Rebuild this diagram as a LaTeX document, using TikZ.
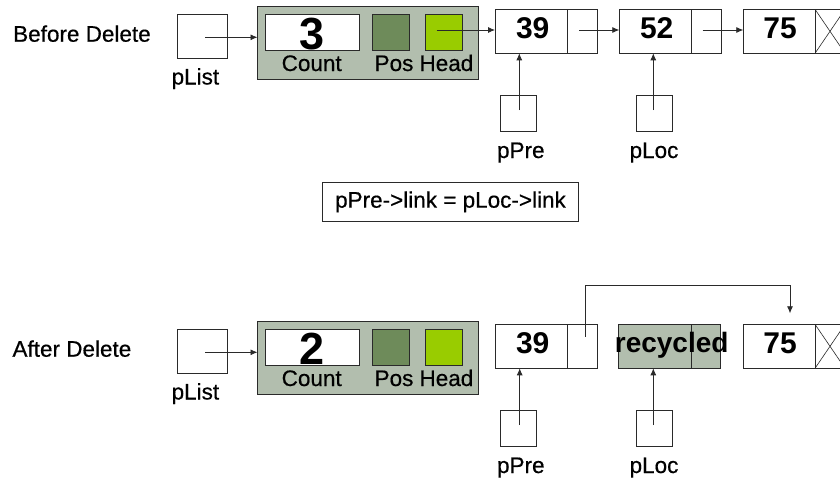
\documentclass[tikz,border=0pt]{standalone}
\usepackage{fontspec}
\setmainfont{Liberation Sans}
\newfontfamily\lblfont{Liberation Sans}[FakeBold=0.5]
\usetikzlibrary{arrows.meta}
\definecolor{panel}{HTML}{B2BEAE}
\definecolor{posgreen}{HTML}{6E8B5A}
\definecolor{headgreen}{HTML}{99CC00}
\definecolor{ln}{HTML}{2A2A2A}
\tikzset{
  box/.style={draw=ln, line width=0.8pt, inner sep=0pt, outer sep=0pt, rectangle},
  lbl/.style={font=\lblfont\fontsize{22.5}{27}\selectfont, inner sep=0pt, anchor=base},
  num/.style={font=\bfseries\fontsize{30}{36}\selectfont, inner sep=0pt, anchor=base},
  bignum/.style={font=\bfseries\fontsize{45}{52}\selectfont, inner sep=0pt, anchor=base},
  ptr/.style={draw=ln, line width=0.8pt, -{Latex[length=7pt,width=6pt]}},
  xline/.style={draw=ln, line width=0.6pt},
}
\begin{document}
\begin{tikzpicture}[x=1pt,y=-1pt]
\useasboundingbox (0,0) rectangle (840,479);
\fill[white] (0,0) rectangle (840,479);

% ---------------- Before Delete ----------------
\node[lbl, anchor=base west] (tbefore) at (13,41.7) {Before Delete};
\node[box, fill=white, minimum width=50.3pt, minimum height=44pt] (bplist) at (202.2,36.3) {};
\node[lbl] (bplistl) at (195.4,84.5) {pList};
\node[box, fill=panel, minimum width=220.5pt, minimum height=73.5pt] (bhdr) at (367.75,42.75) {};
\node[box, fill=white, minimum width=94.3pt, minimum height=36pt] (bcount) at (312.2,32) {};
\node[box, fill=posgreen, minimum width=36.6pt, minimum height=36pt] (bpos) at (391,32) {};
\node[box, fill=headgreen, minimum width=37pt, minimum height=36pt] (bhead) at (444.2,32) {};
\node[bignum] (bcnt) at (312.5,49.5) {3};
\node[lbl] (bcountl) at (311.7,71) {Count};
\node[lbl] (bposl) at (394,71) {Pos};
\node[lbl] (bheadl) at (446.4,71) {Head};

\node[box, fill=white, minimum width=72.3pt, minimum height=44pt] (b39) at (531.15,31.3) {};
\node[box, fill=white, minimum width=30pt, minimum height=44pt] (b39l) at (582.3,31.3) {};
\node[box, fill=white, minimum width=72.4pt, minimum height=44pt] (b52) at (655.5,31.3) {};
\node[box, fill=white, minimum width=30pt, minimum height=44pt] (b52l) at (706.7,31.3) {};
\node[box, fill=white, minimum width=71.7pt, minimum height=44pt] (b75) at (779.15,31.3) {};
\node[box, fill=white, minimum width=30pt, minimum height=44pt] (b75l) at (830,31.3) {};
\draw[xline] (b75l.north west) -- (b75l.south east) (b75l.south west) -- (b75l.north east);
\node[num] (b39t) at (532.7,38.8) {39};
\node[num] (b52t) at (656.7,38.8) {52};
\node[num] (b75t) at (780,38.8) {75};

\node[box, fill=white, minimum width=36pt, minimum height=36pt] (bppre) at (518.7,113.7) {};
\node[box, fill=white, minimum width=36pt, minimum height=36pt] (bploc) at (654.7,113.7) {};
\node[lbl] (bpprel) at (520.8,158) {pPre};
\node[lbl] (bplocl) at (654,158) {pLoc};

\coordinate (bplistp) at (205,37.3);
\draw[ptr] (bplistp) -- (bplistp -| bhdr.west);
\coordinate (bheadp) at (436.7,30);
\draw[ptr] (bheadp) -- (bheadp -| b39.west);
\coordinate (b39p) at (579.3,30);
\draw[ptr] (b39p) -- (b39p -| b52.west);
\coordinate (b52p) at (702.7,30);
\draw[ptr] (b52p) -- (b52p -| b75.west);
\coordinate (bpprep) at (519.3,110);
\draw[ptr] (bpprep) -- (bpprep |- b39.south);
\coordinate (bplocp) at (653.3,110);
\draw[ptr] (bplocp) -- (bplocp |- b52.south);

% ---------------- formula ----------------
\node[box, fill=white, minimum width=255.6pt, minimum height=38.3pt, font=\lblfont\fontsize{22.5}{27}\selectfont] (formula) at (450.5,201.85) {pPre->link = pLoc->link};

% ---------------- After Delete ----------------
\node[lbl, anchor=base west] (tafter) at (12.3,356.7) {After Delete};
\node[box, fill=white, minimum width=50.3pt, minimum height=44pt] (aplist) at (202.2,351.3) {};
\node[lbl] (aplistl) at (195.4,399.5) {pList};
\node[box, fill=panel, minimum width=220.5pt, minimum height=73.5pt] (ahdr) at (367.75,357.75) {};
\node[box, fill=white, minimum width=94.3pt, minimum height=36pt] (acount) at (312.2,347) {};
\node[box, fill=posgreen, minimum width=36.6pt, minimum height=36pt] (apos) at (391,347) {};
\node[box, fill=headgreen, minimum width=37pt, minimum height=36pt] (ahead) at (444.2,347) {};
\node[bignum] (acnt) at (312.5,364.5) {2};
\node[lbl] (acountl) at (311.7,386) {Count};
\node[lbl] (aposl) at (394,386) {Pos};
\node[lbl] (aheadl) at (446.4,386) {Head};

\node[box, fill=white, minimum width=72.3pt, minimum height=44pt] (a39) at (531.15,346.3) {};
\node[box, fill=white, minimum width=30pt, minimum height=44pt] (a39l) at (582.3,346.3) {};
\node[box, fill=panel, minimum width=72.7pt, minimum height=44pt] (arec) at (654.65,346.3) {};
\node[box, fill=panel, minimum width=29.7pt, minimum height=44pt] (arecl) at (705.85,346.3) {};
\node[box, fill=white, minimum width=71.7pt, minimum height=44pt] (a75) at (779.15,346.3) {};
\node[box, fill=white, minimum width=30pt, minimum height=44pt] (a75l) at (830,346.3) {};
\draw[xline] (a75l.north west) -- (a75l.south east) (a75l.south west) -- (a75l.north east);
\node[num] (a39t) at (532.7,353.8) {39};
\node[font=\bfseries\fontsize{28}{34}\selectfont, inner sep=0pt, anchor=base] (arect) at (671.7,352.5) {recycled};
\node[num] (a75t) at (780,353.8) {75};

\node[box, fill=white, minimum width=36pt, minimum height=36pt] (appre) at (518.7,428.7) {};
\node[box, fill=white, minimum width=36pt, minimum height=36pt] (aploc) at (654.7,428.7) {};
\node[lbl] (apprel) at (520.8,473) {pPre};
\node[lbl] (aplocl) at (654,473) {pLoc};

\coordinate (aplistp) at (205,352.3);
\draw[ptr] (aplistp) -- (aplistp -| ahdr.west);
\coordinate (a39p) at (585.7,336.7);
\coordinate (abend) at (790,285);
\coordinate (aend) at (790,313.3);
\draw[ptr] (a39p) -- (a39p |- abend) -- (abend) -- (aend);
\coordinate (apprep) at (519.7,425);
\draw[ptr] (apprep) -- (apprep |- a39.south);
\coordinate (aplocp) at (653.3,425);
\draw[ptr] (aplocp) -- (aplocp |- arec.south);
\end{tikzpicture}
\end{document}
